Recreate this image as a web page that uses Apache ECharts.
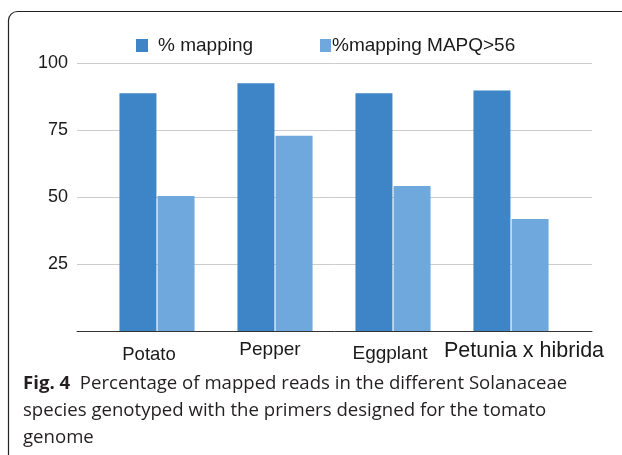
<!DOCTYPE html>
<html>
<head>
<meta charset="utf-8">
<script src="https://cdn.jsdelivr.net/npm/echarts@6/dist/echarts.min.js"></script>
<style>
  html, body { margin: 0; padding: 0; background: #fff; }
  #chart { width: 622px; height: 455px; }
</style>
</head>
<body>
<div id="chart"></div>
<script>
// Species genotyped with the tomato primer set
const species = ['Potato', 'Pepper', 'Eggplant', 'Petunia x hibrida'];
const seriesNames = ['% mapping', '%mapping MAPQ>56'];
const pctMapping = [88.7, 92.4, 88.7, 89.7];
const pctMappingMapq = [50.4, 72.9, 54.1, 41.8];
const yTicks = [0, 25, 50, 75, 100];

const captionLines = [
  'Percentage of mapped reads in the different Solanaceae',
  'species genotyped with the primers designed for the tomato',
  'genome'
];

const DARK = '#3d85c6';
const LIGHT = '#6fa8dc';
const TEXT = '#1a1a1a';
const CHART_FONT = 'Liberation Sans, Arial, sans-serif';
const CAPTION_FONT = 'Open Sans, Noto Sans, sans-serif';
const CAPTION_SIZE = 18.6;

// per-label rich styles: small horizontal nudges under each category
const labelStyles = {
  l0: { fontSize: 18.5, padding: [5, 16, 0, 0] },
  l1: { fontSize: 19, padding: [0, 10, 0, 0] },
  l2: { fontSize: 19, padding: [4, 6, 0, 0] },
  l3: { fontSize: 21.5, padding: [0, 0, 0, 26] }
};
Object.values(labelStyles).forEach(s => { s.color = TEXT; s.fontFamily = CHART_FONT; });

const chart = echarts.init(document.getElementById('chart'), null, { renderer: 'canvas' });

const option = {
  animation: false,
  backgroundColor: '#fff',
  textStyle: { fontFamily: CHART_FONT },
  legend: [
    {
      data: [seriesNames[0]],
      left: 136, top: 36, padding: 0,
      itemWidth: 12, itemHeight: 13,
      icon: 'rect',
      textStyle: { fontSize: 19, color: TEXT, padding: [0, 0, 0, 5] }
    },
    {
      data: [seriesNames[1]],
      left: 320, top: 36, padding: 0,
      itemWidth: 11, itemHeight: 13,
      icon: 'rect',
      textStyle: { fontSize: 19, color: TEXT, padding: [0, 0, 0, -4] }
    }
  ],
  grid: [
    // frame for the value axis, gridlines and baseline
    { left: 77, right: 30, top: 63, bottom: 124 },
    // plotting area for the grouped bars
    { left: 98, right: 52, top: 63, bottom: 124 }
  ],
  xAxis: [
    {
      gridIndex: 0, type: 'value', min: 0, max: 1,
      axisLine: { show: true, lineStyle: { color: '#333', width: 1 } },
      axisTick: { show: false }, axisLabel: { show: false }, splitLine: { show: false }
    },
    {
      gridIndex: 1, type: 'category', data: species,
      axisLine: { show: false }, axisTick: { show: false },
      axisLabel: {
        margin: 9, interval: 0, hideOverlap: false,
        rich: labelStyles,
        formatter: (v, i) => '{l' + i + '|' + v + '}'
      }
    }
  ],
  yAxis: [
    {
      gridIndex: 0, type: 'value',
      min: yTicks[0], max: yTicks[yTicks.length - 1], interval: 25,
      axisLine: { show: false }, axisTick: { show: false },
      axisLabel: {
        fontSize: 18, color: TEXT, margin: 9,
        formatter: v => (v === 0 ? '' : String(v))
      },
      splitLine: { show: true, lineStyle: { color: '#cccccc', width: 1 } }
    },
    {
      gridIndex: 1, type: 'value',
      min: yTicks[0], max: yTicks[yTicks.length - 1], interval: 25,
      show: false, splitLine: { show: false }
    }
  ],
  series: [
    {
      name: seriesNames[0], type: 'bar',
      xAxisIndex: 1, yAxisIndex: 1,
      data: pctMapping,
      barWidth: 37, barGap: '3%',
      itemStyle: { color: DARK }
    },
    {
      name: seriesNames[1], type: 'bar',
      xAxisIndex: 1, yAxisIndex: 1,
      data: pctMappingMapq,
      barWidth: 37, barGap: '3%',
      itemStyle: { color: LIGHT }
    }
  ],
  graphic: [
    // rounded panel border around the figure
    {
      type: 'rect', silent: true,
      shape: { x: 8.5, y: 11.5, width: 700, height: 600, r: 9 },
      style: { fill: 'none', stroke: '#222', lineWidth: 1.2 }
    },
    {
      type: 'text', left: 23, top: 374,
      style: {
        text: '{b|Fig. 4}  ' + captionLines[0],
        font: CAPTION_SIZE + 'px ' + CAPTION_FONT, fill: '#231f20',
        rich: { b: { fontWeight: 'bold', fontSize: CAPTION_SIZE, fontFamily: CAPTION_FONT, fill: '#231f20' } }
      }
    },
    {
      type: 'text', left: 23, top: 401,
      style: { text: captionLines[1], font: CAPTION_SIZE + 'px ' + CAPTION_FONT, fill: '#231f20' }
    },
    {
      type: 'text', left: 23, top: 428,
      style: { text: captionLines[2], font: CAPTION_SIZE + 'px ' + CAPTION_FONT, fill: '#231f20' }
    }
  ]
};

chart.setOption(option);
</script>
</body>
</html>
